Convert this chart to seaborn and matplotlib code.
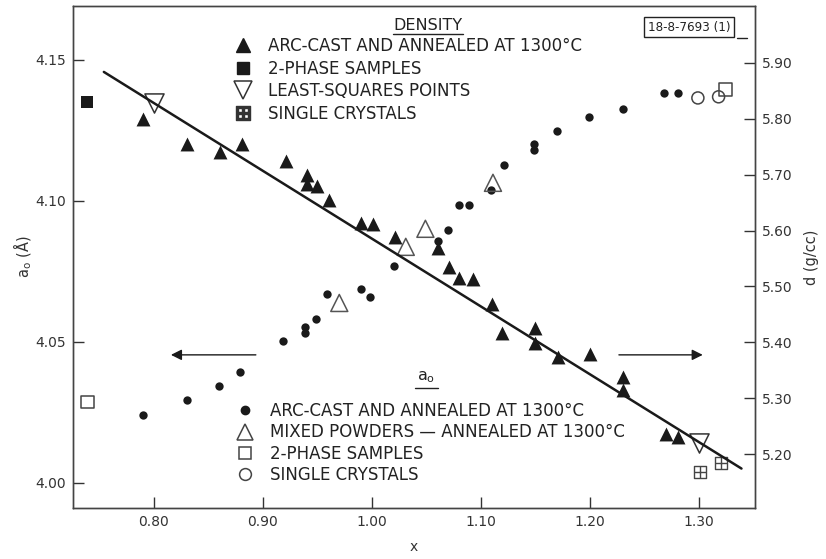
import numpy as np
import pandas as pd
import matplotlib
matplotlib.use("Agg")
import matplotlib.pyplot as plt
from matplotlib.lines import Line2D
import seaborn as sns

# ---------------- data ----------------
# density (right axis, g/cc)
dens_x = [0.790, 0.830, 0.861, 0.881, 0.921, 0.940, 0.940, 0.950, 0.961, 0.990, 1.001,
          1.021, 1.061, 1.071, 1.080, 1.093, 1.110, 1.119, 1.150, 1.150, 1.171, 1.200,
          1.230, 1.230, 1.270, 1.281]
dens_d = [5.800, 5.755, 5.741, 5.755, 5.725, 5.700, 5.684, 5.680, 5.655, 5.614, 5.612,
          5.589, 5.569, 5.535, 5.515, 5.514, 5.469, 5.417, 5.426, 5.399, 5.374, 5.379,
          5.338, 5.315, 5.236, 5.231]
dens2ph_x = [0.739]
dens2ph_d = [5.830]
lsq_x = [0.800, 1.300]
lsq_d = [5.828, 5.220]
dsc_x = [1.301, 1.320]
dsc_d = [5.167, 5.184]
fit_x = [0.754, 1.339]
fit_d = [5.884, 5.174]

# lattice parameter a0 (left axis, Angstrom)
a0_x = [0.790, 0.830, 0.860, 0.879, 0.918, 0.939, 0.939, 0.949, 0.959, 0.990, 0.998,
        1.020, 1.061, 1.070, 1.080, 1.089, 1.109, 1.121, 1.149, 1.149, 1.170, 1.199,
        1.230, 1.268, 1.281]
a0_y = [4.0241, 4.0294, 4.0344, 4.0394, 4.0504, 4.0553, 4.0532, 4.0582, 4.0670, 4.0688,
        4.0660, 4.0770, 4.0858, 4.0897, 4.0986, 4.0986, 4.1039, 4.1128, 4.1202, 4.1181,
        4.1248, 4.1298, 4.1326, 4.1383, 4.1383]
mix_x = [0.970, 1.031, 1.049, 1.111]
mix_y = [4.0638, 4.0837, 4.0901, 4.1064]
a2ph_x = [0.739, 1.324]
a2ph_y = [4.0287, 4.1394]
asc_x = [1.299, 1.318]
asc_y = [4.1365, 4.1369]

xticks = [0.80, 0.90, 1.00, 1.10, 1.20, 1.30]
xticklabels = ["0.80", "0.90", "1.00", "1.10", "1.20", "1.30"]
lticks = [4.00, 4.05, 4.10, 4.15]
lticklabels = ["4.00", "4.05", "4.10", "4.15"]
rticks = [5.20, 5.30, 5.40, 5.50, 5.60, 5.70, 5.80, 5.90]
rticklabels = ["5.20", "5.30", "5.40", "5.50", "5.60", "5.70", "5.80", "5.90"]

dens_labels = ["ARC-CAST AND ANNEALED AT 1300°C", "2-PHASE SAMPLES",
               "LEAST-SQUARES POINTS", "SINGLE CRYSTALS"]
a0_labels = ["ARC-CAST AND ANNEALED AT 1300°C", "MIXED POWDERS — ANNEALED AT 1300°C",
             "2-PHASE SAMPLES", "SINGLE CRYSTALS"]

# ---------------- style ----------------
sns.set_style("ticks")
plt.rcParams["font.family"] = ["DejaVu Sans"]
plt.rcParams["xtick.direction"] = "in"
plt.rcParams["ytick.direction"] = "in"
K = "#1a1a1a"

W, H = 826, 559
fig = plt.figure(figsize=(W / 100, H / 100), dpi=100)
ax = fig.add_axes([73 / W, 1 - 508 / H, (755 - 73) / W, (508 - 6) / H])
ax2 = ax.twinx()

def fx(px):
    return px / W

def fy(py):
    return 1 - py / H

# a0 series (left)
sns.scatterplot(x=a0_x, y=a0_y, ax=ax, marker="o", s=36, color=K, edgecolor=K, linewidth=0)
sns.scatterplot(x=mix_x, y=mix_y, ax=ax, marker="^", s=150, facecolor="none",
                edgecolor="#555555", linewidth=1.1)
sns.scatterplot(x=a2ph_x, y=a2ph_y, ax=ax, marker="s", s=85, facecolor="none",
                edgecolor="#444444", linewidth=1.1)
sns.scatterplot(x=asc_x, y=asc_y, ax=ax, marker="o", s=75, facecolor="none",
                edgecolor="#444444", linewidth=1.1)

# density series (right)
sns.lineplot(x=fit_x, y=fit_d, ax=ax2, color=K, linewidth=1.8)
sns.scatterplot(x=dens_x, y=dens_d, ax=ax2, marker="^", s=100, color=K, edgecolor=K, linewidth=0)
sns.scatterplot(x=dens2ph_x, y=dens2ph_d, ax=ax2, marker="s", s=70, color=K, edgecolor=K, linewidth=0)
sns.scatterplot(x=lsq_x, y=lsq_d, ax=ax2, marker="v", s=190, facecolor="white",
                edgecolor="#333333", linewidth=1.1)
sns.scatterplot(x=dsc_x, y=dsc_d, ax=ax2, marker="s", s=80, facecolor="white",
                edgecolor="#444444", linewidth=1.0)
sns.scatterplot(x=dsc_x, y=dsc_d, ax=ax2, marker="+", s=80, color="#444444", linewidth=1.0)

# axes
ax.set_xlim(0.7257, 1.3514)
ax.set_ylim(3.9911, 4.1691)
ax2.set_ylim(5.1034, 6.002)
ax.set_xticks(xticks)
ax.set_xticklabels(xticklabels, fontsize=10, color="#333333")
ax.set_yticks(lticks)
ax.set_yticklabels(lticklabels, fontsize=10, color="#333333")
ax2.set_yticks(rticks)
ax2.set_yticklabels(rticklabels, fontsize=10, color="#333333")
for a in (ax, ax2):
    a.tick_params(length=8, width=1, color="#333333", pad=5)
    for sp in a.spines.values():
        sp.set_visible(True)
        sp.set_color("#444444")
        sp.set_linewidth(1.0)
ax.set_xlabel("x", fontsize=10, color="#333333", labelpad=8)
ax.set_ylabel("a$_{\\rm o}$ (Å)", fontsize=10.5, color="#333333", labelpad=1)
ax2.set_ylabel("d (g/cc)", fontsize=10.5, color="#333333", labelpad=8)

# arrows
ax.annotate("", xy=(0.813, 4.0454), xytext=(0.896, 4.0454),
            arrowprops=dict(arrowstyle="-|>", color=K, lw=1.0, mutation_scale=16))
ax.annotate("", xy=(1.306, 4.0454), xytext=(1.224, 4.0454),
            arrowprops=dict(arrowstyle="-|>", color=K, lw=1.0, mutation_scale=16))

# legends
FS = 12
dens_handles = [
    Line2D([], [], ls="none", marker="^", ms=10, color=K, mec=K),
    Line2D([], [], ls="none", marker="s", ms=8.5, color=K, mec=K),
    Line2D([], [], ls="none", marker="v", ms=13, mfc="white", mec="#333333", mew=1.1),
    Line2D([], [], ls="none", marker="$\\boxplus$", ms=10, color="#333333"),
]
leg1 = fig.legend(handles=dens_handles, labels=dens_labels, loc="upper left",
                  bbox_to_anchor=(fx(235), fy(37)), frameon=False, fontsize=FS,
                  handlelength=0.95, handletextpad=1.0, labelspacing=0.28, borderpad=0,
                  borderaxespad=0, labelcolor="#222222")
a0_handles = [
    Line2D([], [], ls="none", marker="o", ms=6, color=K, mec=K),
    Line2D([], [], ls="none", marker="^", ms=12, mfc="none", mec="#444444", mew=1.1),
    Line2D([], [], ls="none", marker="s", ms=9, mfc="none", mec="#444444", mew=1.1),
    Line2D([], [], ls="none", marker="o", ms=8.5, mfc="none", mec="#444444", mew=1.1),
]
leg2 = fig.legend(handles=a0_handles, labels=a0_labels, loc="upper left",
                  bbox_to_anchor=(fx(237), fy(402)), frameon=False, fontsize=FS,
                  handlelength=0.95, handletextpad=1.0, labelspacing=0.2, borderpad=0,
                  borderaxespad=0, labelcolor="#222222")

# legend titles (underlined)
fig.text(fx(428), fy(25), "DENSITY", ha="center", va="center", fontsize=11.5, color="#222222")
fig.add_artist(Line2D([fx(393), fx(463)], [fy(34), fy(34)], color="#222222", lw=1.0))
fig.text(fx(426), fy(377), "a$_{\\rm o}$", ha="center", va="center", fontsize=11.5, color="#222222")
fig.add_artist(Line2D([fx(415), fx(438)], [fy(388), fy(388)], color="#222222", lw=1.0))

# figure id box
fig.text(fx(689), fy(27), "18-8-7693 (1)", ha="center", va="center", fontsize=9.5,
         color="#222222", fontstretch="condensed",
         bbox=dict(boxstyle="square,pad=0.25", fc="white", ec="#222222", lw=1.0))
fig.add_artist(Line2D([fx(737), fx(747)], [fy(37.5), fy(37.5)], color="#222222", lw=1.0))

fig.savefig("out.png", dpi=100)
